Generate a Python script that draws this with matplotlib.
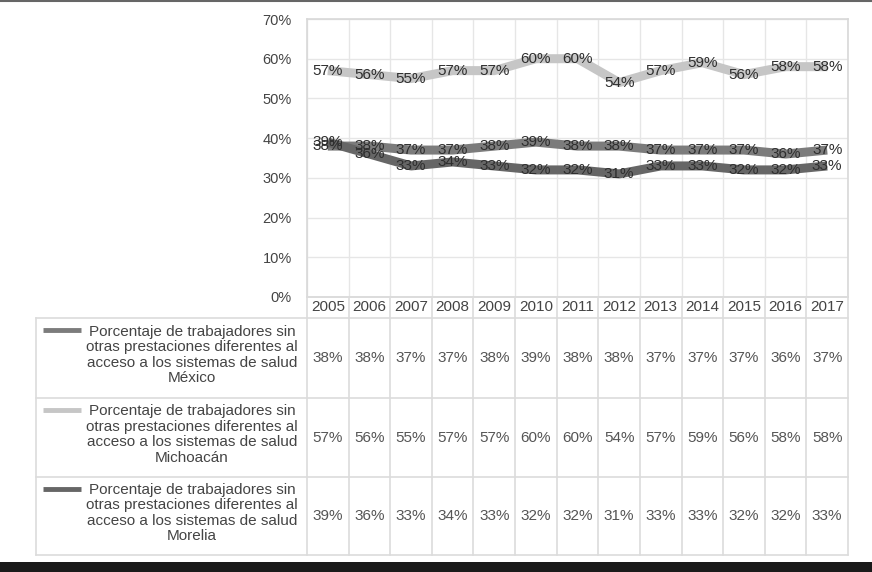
import numpy as np
import matplotlib.pyplot as plt
from matplotlib.lines import Line2D

plt.rcParams['font.family'] = ['Liberation Sans', 'DejaVu Sans']

years = ['2005', '2006', '2007', '2008', '2009', '2010', '2011',
         '2012', '2013', '2014', '2015', '2016', '2017']
mexico = [38, 38, 37, 37, 38, 39, 38, 38, 37, 37, 37, 36, 37]
michoacan = [57, 56, 55, 57, 57, 60, 60, 54, 57, 59, 56, 58, 58]
morelia = [39, 36, 33, 34, 33, 32, 32, 31, 33, 33, 32, 32, 33]

series_names = [
    'Porcentaje de trabajadores sin\notras prestaciones diferentes al\nacceso a los sistemas de salud\nMéxico',
    'Porcentaje de trabajadores sin\notras prestaciones diferentes al\nacceso a los sistemas de salud\nMichoacán',
    'Porcentaje de trabajadores sin\notras prestaciones diferentes al\nacceso a los sistemas de salud\nMorelia',
]
series_values = [mexico, michoacan, morelia]
series_colors = ['#7c7c7c', '#c6c6c6', '#666666']

W, H = 872, 572
fig = plt.figure(figsize=(W / 100, H / 100), dpi=100)


def fx(px):
    return px / W


def fy(py):
    return 1 - py / H


# plot area in pixels
left, right, top, bottom = 307, 848, 19, 297
ax = fig.add_axes([fx(left), fy(bottom), fx(right - left), (bottom - top) / H])

grid_c = '#e6e6e6'
n = len(years)
x = np.arange(n)
for vals, col in zip(series_values, series_colors):
    v = np.array(vals) / 100
    ax.plot(x, v, color=col, lw=6.5, solid_joinstyle='round', solid_capstyle='butt', zorder=3)
for vals in series_values:
    for xi, val in zip(x, vals):
        ax.text(xi, val / 100, f'{val}%', ha='center', va='center',
                fontsize=11, color='#2e2e2e', zorder=5)

ax.set_xlim(-0.5, n - 0.5)
ax.set_ylim(0, 0.70)
ax.set_yticks(np.arange(0, 0.71, 0.1))
ax.set_yticklabels([f'{int(round(t * 100))}%' for t in np.arange(0, 0.71, 0.1)],
                   fontsize=10.5, color='#444444')
ax.tick_params(axis='y', length=0, pad=11)
ax.set_xticks(np.arange(-0.5, n, 1.0))
ax.tick_params(axis='x', length=0, labelbottom=False)
ax.grid(True, color=grid_c, lw=1)
ax.set_axisbelow(True)
for s in ax.spines.values():
    s.set_color('#d8d8d8')
    s.set_linewidth(1.2)

# data table below the chart
tab = fig.add_axes([0, 0, 1, 1], facecolor='none')
tab.set_xlim(0, W)
tab.set_ylim(H, 0)
tab.axis('off')

col_w = (right - left) / n
row_tops = [318, 398, 477, 555]
tab_left = 36
line_c = '#dcdcdc'

# header row with years
for i, yr in enumerate(years):
    tab.text(left + (i + 0.5) * col_w, 307, yr, ha='center', va='center',
             fontsize=11, color='#444444')
for i in range(n + 1):
    xx = left + i * col_w
    tab.add_line(Line2D([xx, xx], [bottom, row_tops[-1]], color=line_c, lw=1.2))
tab.add_line(Line2D([left, right], [bottom, bottom], color=line_c, lw=1.2))
for yy in row_tops:
    tab.add_line(Line2D([tab_left, right], [yy, yy], color=line_c, lw=1.2))
tab.add_line(Line2D([tab_left, tab_left], [row_tops[0], row_tops[-1]], color=line_c, lw=1.2))

for r, (name, vals, col) in enumerate(zip(series_names, series_values, series_colors)):
    y0, y1 = row_tops[r], row_tops[r + 1]
    yc = (y0 + y1) / 2
    tab.text(192, yc - 3, name, ha='center', va='center', fontsize=11,
             color='#444444', linespacing=1.13)
    tab.add_line(Line2D([43, 81], [y0 + 12, y0 + 12], color=col, lw=3.5,
                        solid_capstyle='butt'))
    for i, val in enumerate(vals):
        tab.text(left + (i + 0.5) * col_w, yc, f'{val}%', ha='center', va='center',
                 fontsize=11, color='#555555')

# frame decorations: top rule and bottom bar
tab.add_line(Line2D([0, W], [0.8, 0.8], color='#666666', lw=1.5))
tab.add_patch(plt.Rectangle((0, 562), W, 10, color='#1a1a1a', lw=0))

fig.savefig('out.png', dpi=100)
